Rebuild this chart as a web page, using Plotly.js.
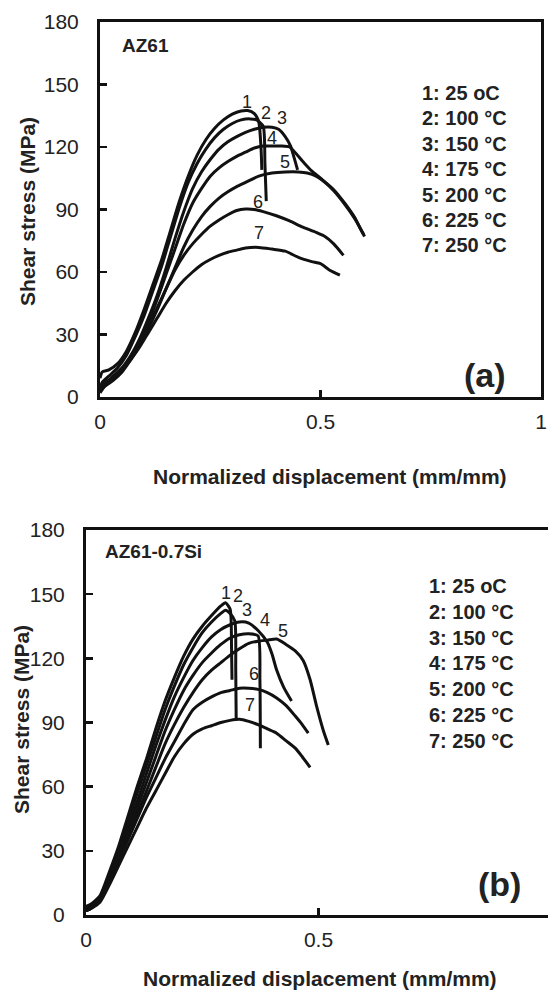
<!DOCTYPE html>
<html>
<head>
<meta charset="utf-8">
<script src="https://cdn.plot.ly/plotly-3.0.1.min.js"></script>
<style>
html, body { margin: 0; padding: 0; overflow: hidden; background: #fff; width: 548px; height: 992px; }
#chart { width: 556px; height: 992px; }
</style>
</head>
<body>
<div id="chart"></div>
<script>
// ---------- Panel (a): AZ61 ----------
const a_x1 = [0, 0.005, 0.02, 0.04, 0.06, 0.08, 0.10, 0.12, 0.14, 0.16, 0.18, 0.20, 0.22, 0.24, 0.26, 0.28, 0.30, 0.32, 0.335, 0.35, 0.36, 0.365, 0.367];
const a_y1 = [9, 12, 13, 16, 22, 31, 42, 54, 66, 80, 94, 106, 116, 123.5, 129, 133, 135.8, 137.3, 137.5, 136, 132, 120, 109];
const a_x2 = [0, 0.005, 0.02, 0.04, 0.06, 0.08, 0.10, 0.12, 0.14, 0.16, 0.18, 0.20, 0.22, 0.24, 0.26, 0.28, 0.30, 0.32, 0.34, 0.355, 0.37, 0.374, 0.377];
const a_y2 = [4, 7, 10, 14, 20, 29, 39, 51, 63, 77, 91, 103, 112, 119, 124.5, 128.5, 131.3, 133, 133.5, 133, 130, 112, 94];
const a_x3 = [0, 0.01, 0.03, 0.05, 0.07, 0.09, 0.11, 0.13, 0.15, 0.17, 0.19, 0.21, 0.23, 0.25, 0.27, 0.29, 0.31, 0.33, 0.35, 0.37, 0.39, 0.405, 0.42, 0.432, 0.44, 0.448];
const a_y3 = [3, 6, 10, 14, 20, 28, 38, 49, 62, 76, 89, 100, 108, 114, 119, 122.5, 125, 127, 128.5, 129.5, 129.5, 128.5, 125, 120.5, 115, 109];
const a_x4 = [0, 0.01, 0.03, 0.05, 0.07, 0.09, 0.11, 0.13, 0.15, 0.17, 0.19, 0.21, 0.23, 0.25, 0.27, 0.29, 0.31, 0.33, 0.35, 0.37, 0.39, 0.41, 0.43, 0.46, 0.48, 0.50, 0.53, 0.555, 0.578, 0.59, 0.60];
const a_y4 = [2, 5, 9, 13, 19, 27, 36, 47, 59, 71, 83, 93, 100, 106, 110, 113, 115.5, 117.5, 119.5, 120.5, 120.5, 120.5, 120, 113, 108.5, 105, 99.5, 93, 86, 81, 77];
const a_x5 = [0, 0.01, 0.03, 0.05, 0.07, 0.09, 0.11, 0.13, 0.15, 0.17, 0.19, 0.21, 0.23, 0.25, 0.27, 0.29, 0.31, 0.33, 0.36, 0.39, 0.42, 0.45, 0.47, 0.49, 0.51, 0.53, 0.555, 0.578, 0.59, 0.598];
const a_y5 = [3, 5, 8, 12, 18, 25, 33, 42, 52, 62, 72, 80, 86.5, 91.5, 95.5, 98.5, 101, 103, 106, 107.5, 108, 108, 107.5, 106, 103, 99, 92.5, 85.5, 81, 78];
const a_x6 = [0, 0.01, 0.03, 0.05, 0.07, 0.09, 0.11, 0.13, 0.15, 0.17, 0.19, 0.21, 0.23, 0.25, 0.27, 0.29, 0.31, 0.33, 0.35, 0.37, 0.40, 0.43, 0.46, 0.49, 0.51, 0.53, 0.552];
const a_y6 = [4, 6, 9, 13, 19, 26, 34, 43, 52, 61, 68, 73.5, 78, 82, 85, 87.5, 89.5, 90.2, 90, 89, 87, 84.5, 81.5, 79, 77, 73.5, 68];
const a_x7 = [0, 0.01, 0.03, 0.05, 0.07, 0.09, 0.11, 0.13, 0.15, 0.17, 0.19, 0.21, 0.23, 0.25, 0.27, 0.29, 0.31, 0.33, 0.36, 0.39, 0.42, 0.45, 0.48, 0.50, 0.52, 0.544];
const a_y7 = [5, 7, 9, 13, 18, 24, 31, 38, 45, 51, 56, 60, 63.5, 66, 68, 69.5, 70.5, 71.5, 71.8, 71, 70, 67, 65, 64, 61, 58.5];

// ---------- Panel (b): AZ61-0.7Si ----------
const b_x1 = [0, 0.01, 0.03, 0.05, 0.07, 0.09, 0.11, 0.13, 0.15, 0.17, 0.19, 0.21, 0.23, 0.25, 0.27, 0.29, 0.30, 0.31, 0.313, 0.314];
const b_y1 = [4, 5, 9, 20, 32, 46, 60, 73, 87, 100, 111, 121, 129, 135, 140, 144.5, 146, 143, 125, 110];
const b_x2 = [0, 0.01, 0.03, 0.05, 0.07, 0.09, 0.11, 0.13, 0.15, 0.17, 0.19, 0.21, 0.23, 0.25, 0.27, 0.29, 0.30, 0.31, 0.32, 0.322, 0.323];
const b_y2 = [3, 4, 8, 18, 30, 43, 57, 70, 83, 96, 107, 117, 125, 132, 137, 141, 142.5, 141, 137.5, 115, 91];
const b_x3 = [0, 0.01, 0.03, 0.05, 0.07, 0.09, 0.11, 0.13, 0.15, 0.17, 0.19, 0.21, 0.23, 0.25, 0.27, 0.29, 0.31, 0.33, 0.35, 0.37, 0.39, 0.40, 0.41, 0.425, 0.442];
const b_y3 = [3, 4, 8, 17, 28, 40, 53, 66, 79, 91, 102, 111, 119, 125, 130, 133.5, 135.7, 137, 136.5, 133, 127.5, 122, 114.5, 106.5, 100];
const b_x4 = [0, 0.01, 0.03, 0.05, 0.07, 0.09, 0.11, 0.13, 0.15, 0.17, 0.19, 0.21, 0.23, 0.25, 0.27, 0.29, 0.31, 0.33, 0.35, 0.37, 0.374, 0.375];
const b_y4 = [2, 3, 7, 16, 27, 38, 50, 62, 74, 86, 96, 105, 112, 118, 122.5, 126.5, 129.5, 131, 131.5, 130.5, 110, 78];
const b_x5 = [0, 0.01, 0.03, 0.05, 0.07, 0.09, 0.11, 0.13, 0.15, 0.17, 0.19, 0.21, 0.23, 0.25, 0.27, 0.29, 0.31, 0.33, 0.35, 0.37, 0.39, 0.41, 0.43, 0.45, 0.467, 0.482, 0.496, 0.51, 0.521];
const b_y5 = [2, 3, 7, 15, 25, 36, 47, 58, 69, 80, 89, 97, 104, 110, 114.5, 118, 121.5, 124.5, 127, 128, 128.5, 129, 126.5, 123.5, 119, 110, 97.5, 86.5, 79.5];
const b_x6 = [0, 0.01, 0.03, 0.05, 0.07, 0.09, 0.11, 0.13, 0.15, 0.17, 0.19, 0.21, 0.23, 0.25, 0.27, 0.29, 0.31, 0.33, 0.35, 0.37, 0.39, 0.41, 0.43, 0.45, 0.465, 0.478];
const b_y6 = [2, 3, 7, 15, 25, 35, 45, 55, 64, 73, 81, 89, 96, 99.5, 102, 104, 105, 106, 106, 105.5, 104, 101.5, 98, 93, 89, 85];
const b_x7 = [0, 0.01, 0.03, 0.05, 0.07, 0.09, 0.11, 0.13, 0.15, 0.17, 0.19, 0.21, 0.23, 0.25, 0.27, 0.29, 0.31, 0.33, 0.35, 0.37, 0.39, 0.41, 0.43, 0.45, 0.465, 0.482];
const b_y7 = [2, 3, 6, 14, 23, 32, 41, 50, 58, 66, 74, 80, 84.5, 87, 88.5, 90, 91, 91.5, 90.5, 89, 87, 85, 81.5, 78, 74, 69];

// ---------- Text ----------
const legendLines = ['1: 25 oC', '2: 100 °C', '3: 150 °C', '4: 175 °C', '5: 200 °C', '6: 225 °C', '7: 250 °C'];
const curveNames = ['1', '2', '3', '4', '5', '6', '7'];
const a_labelX = [0.334, 0.377, 0.413, 0.390, 0.419, 0.358, 0.360];
const a_labelY = [141.8, 136.2, 133.8, 124.2, 113.0, 93.8, 78.6];
const b_labelX = [0.301, 0.326, 0.346, 0.384, 0.423, 0.361, 0.353];
const b_labelY = [150.4, 149.0, 142.6, 137.9, 132.9, 112.5, 98.2];
const yTicks = [0, 30, 60, 90, 120, 150, 180];
const xTicks = [0, 0.5, 1];
const xTitle = 'Normalized displacement (mm/mm)';
const yTitle = 'Shear stress (MPa)';

// ---------- Build ----------
const W = 556, H = 992;
const FONT = 'Liberation Sans, Arial, Helvetica, sans-serif';
const px = v => v / W;
const py = v => 1 - v / H;

const aX = [a_x1, a_x2, a_x3, a_x4, a_x5, a_x6, a_x7];
const aY = [a_y1, a_y2, a_y3, a_y4, a_y5, a_y6, a_y7];
const bX = [b_x1, b_x2, b_x3, b_x4, b_x5, b_x6, b_x7];
const bY = [b_y1, b_y2, b_y3, b_y4, b_y5, b_y6, b_y7];

const traces = [];
for (let i = 0; i < 7; i++) {
  traces.push({x: aX[i], y: aY[i], xaxis: 'x', yaxis: 'y', type: 'scatter', mode: 'lines',
    line: {color: '#111', width: 3, shape: 'spline', smoothing: 0.6}, hoverinfo: 'skip', showlegend: false});
}
for (let i = 0; i < 7; i++) {
  traces.push({x: bX[i], y: bY[i], xaxis: 'x2', yaxis: 'y2', type: 'scatter', mode: 'lines',
    line: {color: '#111', width: 3, shape: 'spline', smoothing: 0.6}, hoverinfo: 'skip', showlegend: false});
}

function axisCommon(extra) {
  return Object.assign({
    showline: true, linecolor: '#111', linewidth: 3, mirror: true,
    showgrid: false, zeroline: false,
    ticks: 'inside', ticklen: 7, tickwidth: 2.5, tickcolor: '#111',
    tickfont: {family: FONT, size: 21, color: '#222'},
    fixedrange: true
  }, extra);
}

const ann = [];
ann.push({xref: 'paper', yref: 'paper', x: px(120), y: py(45), xanchor: 'left', yanchor: 'middle',
  text: '<b>AZ61</b>', showarrow: false, font: {family: FONT, size: 19, color: '#222'}});
ann.push({xref: 'paper', yref: 'paper', x: px(103), y: py(551), xanchor: 'left', yanchor: 'middle',
  text: '<b>AZ61-0.7Si</b>', showarrow: false, font: {family: FONT, size: 19, color: '#222'}});
ann.push({xref: 'paper', yref: 'paper', x: px(508), y: py(375), xanchor: 'right', yanchor: 'middle',
  text: '<b>(a)</b>', showarrow: false, font: {family: FONT, size: 34, color: '#222'}});
ann.push({xref: 'paper', yref: 'paper', x: px(523), y: py(884), xanchor: 'right', yanchor: 'middle',
  text: '<b>(b)</b>', showarrow: false, font: {family: FONT, size: 34, color: '#222'}});
for (let i = 0; i < legendLines.length; i++) {
  ann.push({xref: 'paper', yref: 'paper', x: px(420), y: py(93 + i * 25.4), xanchor: 'left', yanchor: 'middle',
    text: '<b>' + legendLines[i] + '</b>', showarrow: false, font: {family: FONT, size: 20, color: '#222'}});
  ann.push({xref: 'paper', yref: 'paper', x: px(427), y: py(586 + i * 25.8), xanchor: 'left', yanchor: 'middle',
    text: '<b>' + legendLines[i] + '</b>', showarrow: false, font: {family: FONT, size: 20, color: '#222'}});
}
for (let i = 0; i < 7; i++) {
  ann.push({xref: 'x', yref: 'y', x: a_labelX[i], y: a_labelY[i], text: curveNames[i], showarrow: false,
    font: {family: FONT, size: 18, color: '#222'}});
  ann.push({xref: 'x2', yref: 'y2', x: b_labelX[i], y: b_labelY[i], text: curveNames[i], showarrow: false,
    font: {family: FONT, size: 18, color: '#222'}});
}
ann.push({xref: 'paper', yref: 'paper', x: px(330), y: py(476), xanchor: 'center', yanchor: 'middle',
  text: '<b>' + xTitle + '</b>', showarrow: false, font: {family: FONT, size: 21, color: '#222'}});
ann.push({xref: 'paper', yref: 'paper', x: px(320), y: py(978), xanchor: 'center', yanchor: 'middle',
  text: '<b>' + xTitle + '</b>', showarrow: false, font: {family: FONT, size: 21, color: '#222'}});
ann.push({xref: 'paper', yref: 'paper', x: px(27), y: py(212), xanchor: 'center', yanchor: 'middle', textangle: -90,
  text: '<b>' + yTitle + '</b>', showarrow: false, font: {family: FONT, size: 21, color: '#222'}});
ann.push({xref: 'paper', yref: 'paper', x: px(21), y: py(720), xanchor: 'center', yanchor: 'middle', textangle: -90,
  text: '<b>' + yTitle + '</b>', showarrow: false, font: {family: FONT, size: 21, color: '#222'}});

const layout = {
  width: W, height: H, autosize: false,
  margin: {l: 0, r: 0, t: 0, b: 0, pad: 0},
  paper_bgcolor: '#fff', plot_bgcolor: '#fff',
  showlegend: false,
  xaxis: axisCommon({domain: [px(100), px(541)], range: [0, 1], anchor: 'y',
    tickvals: xTicks, ticklabelstandoff: 4}),
  yaxis: axisCommon({domain: [py(397), py(22)], range: [0, 180], anchor: 'x',
    tickvals: yTicks, ticklabelstandoff: 14}),
  xaxis2: axisCommon({domain: [px(86), px(551)], range: [0, 1], anchor: 'y2',
    tickvals: xTicks, ticklabelstandoff: 4}),
  yaxis2: axisCommon({domain: [py(915), py(530)], range: [0, 180], anchor: 'x2',
    tickvals: yTicks, ticklabelstandoff: 14}),
  annotations: ann
};

Plotly.newPlot('chart', traces, layout, {staticPlot: true, displayModeBar: false});
</script>
</body>
</html>
